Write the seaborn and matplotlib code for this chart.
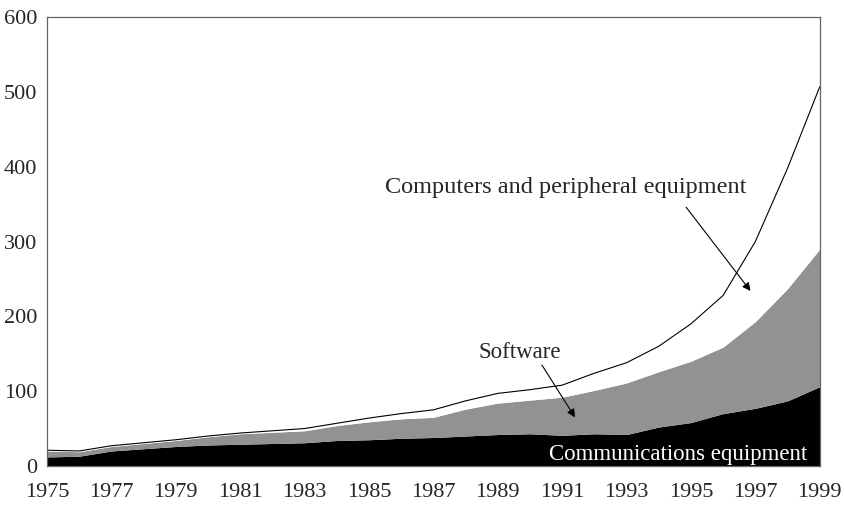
import numpy as np
import pandas as pd
import seaborn as sns
import matplotlib.pyplot as plt

# values (stacked tops)
years = list(range(1975, 2000))
comm_top = [12, 13, 20, 23, 26, 28, 29, 30, 31, 34, 35, 37, 38, 40, 42, 43, 41, 43, 42, 52, 58, 70, 77, 87, 106]
soft_top = [20, 19, 26, 30, 34, 39, 43, 45, 47, 54, 59, 63, 65, 76, 84, 88, 92, 101, 111, 126, 140, 159, 193, 237, 290]
total_top = [21, 20, 27, 31, 35, 40, 44, 47, 50, 57, 64, 70, 75, 87, 97, 102, 108, 124, 138, 160, 190, 228, 300, 398, 507]

communications = np.array(comm_top)
software = np.array(soft_top) - np.array(comm_top)
computers = np.array(total_top) - np.array(soft_top)

df = pd.DataFrame({"year": years, "total": total_top})

sns.set_style("white")
plt.rcParams["font.family"] = ["Liberation Serif", "DejaVu Serif"]

fig = plt.figure(figsize=(8.45, 5.07), dpi=100)
ax = fig.add_axes([0.0556, 0.081, 0.9145, 0.885])

ax.stackplot(years, communications, software, computers,
             colors=["black", "#929292", "white"], linewidth=0)
sns.lineplot(data=df, x="year", y="total", color="black", lw=0.8, ax=ax)

ax.set_xlim(1975, 1999)
ax.set_ylim(0, 600)
ax.set_xticks(range(1975, 2000, 2))
ax.set_yticks(range(0, 601, 100))
ax.set_xlabel("")
ax.set_ylabel("")
ax.tick_params(axis="y", direction="in", length=7, width=0.8, color="#555555",
               labelsize=16, pad=7)
ax.tick_params(axis="x", length=0, labelsize=16, pad=12)
for s in ax.spines.values():
    s.set_color("#666666")
    s.set_linewidth(0.9)

arrow = dict(arrowstyle="-|>", color="black", lw=0.8, mutation_scale=12,
             shrinkA=0, shrinkB=0)
ax.text(1985.5, 372, "Computers and peripheral equipment", fontsize=17.5,
        va="center", ha="left")
ax.annotate("", xy=(1996.85, 234), xytext=(1994.85, 346), arrowprops=arrow)
ax.text(1988.4, 152, "Software", fontsize=16.5, va="center", ha="left")
ax.annotate("", xy=(1991.4, 65), xytext=(1990.37, 135), arrowprops=arrow)
ax.text(1998.6, 15, "Communications equipment", color="white",
        fontsize=16.5, ha="right", va="center")

fig.savefig("out.png", dpi=100)
